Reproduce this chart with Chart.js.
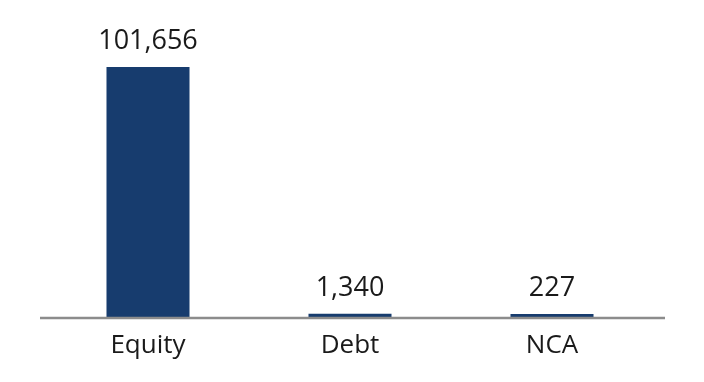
<!DOCTYPE html>
<html>
<head>
<meta charset="utf-8">
<script src="https://cdn.jsdelivr.net/npm/chart.js@4/dist/chart.umd.min.js"></script>
<style>
html,body{margin:0;padding:0;background:#fff;}
#wrap{width:704px;height:382px;}
</style>
</head>
<body>
<div id="wrap"><canvas id="c" width="704" height="382"></canvas></div>
<script>
const categories = ["Equity", "Debt", "NCA"];
const values = [101656, 1340, 227];
const valueLabels = ["101,656", "1,340", "227"];

const FONT = "'Open Sans', sans-serif";
const BAR = "#173c6e";
const AXIS = "#8c8c8c";
const TEXT = "#1a1a1a";

const labelPlugin = {
  id: "valueLabels",
  afterDatasetsDraw(chart) {
    const ctx = chart.ctx;
    const meta = chart.getDatasetMeta(0);
    ctx.save();
    ctx.font = "27px " + FONT;
    ctx.fillStyle = TEXT;
    ctx.textAlign = "center";
    ctx.textBaseline = "alphabetic";
    meta.data.forEach((bar, i) => {
      ctx.fillText(valueLabels[i], bar.x, bar.y - 18);
    });
    ctx.restore();
  }
};

const axisLinePlugin = {
  id: "axisLine",
  afterDatasetsDraw(chart) {
    const ctx = chart.ctx;
    const y = chart.scales.y.getPixelForValue(0);
    ctx.save();
    ctx.strokeStyle = AXIS;
    ctx.lineWidth = 2.5;
    ctx.beginPath();
    ctx.moveTo(40, y + 1);
    ctx.lineTo(665, y + 1);
    ctx.stroke();
    ctx.restore();
  }
};

new Chart(document.getElementById("c"), {
  type: "bar",
  data: {
    labels: categories,
    datasets: [{
      data: values,
      backgroundColor: BAR,
      borderWidth: 0,
      categoryPercentage: 1,
      barPercentage: 0.411,
      minBarLength: 3
    }]
  },
  options: {
    responsive: false,
    animation: false,
    devicePixelRatio: 1,
    layout: { padding: { left: 47, right: 51, top: 22, bottom: 0 } },
    plugins: { legend: { display: false }, tooltip: { enabled: false } },
    scales: {
      x: {
        grid: { display: false, drawTicks: false },
        border: { display: false },
        ticks: { color: TEXT, font: { family: FONT, size: 26 }, padding: 13 },
        afterFit(scale) { scale.height = 65; }
      },
      y: {
        display: false,
        min: 0,
        max: 120000
      }
    }
  },
  plugins: [labelPlugin, axisLinePlugin]
});
</script>
</body>
</html>
